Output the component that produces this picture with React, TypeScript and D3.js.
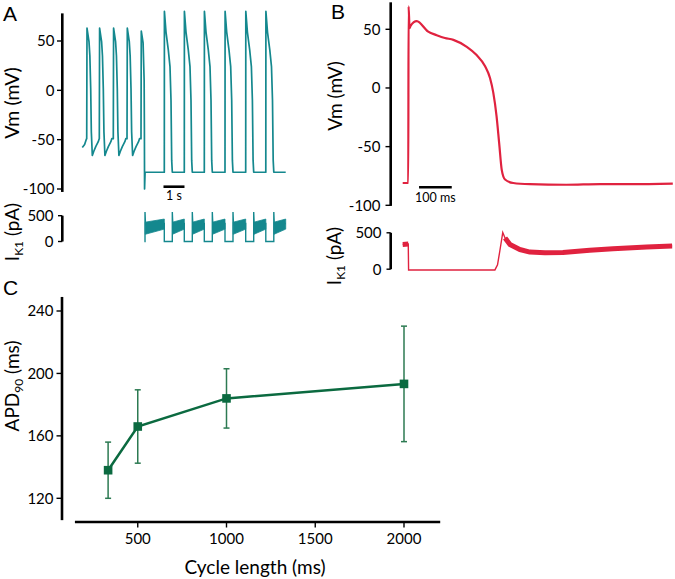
import React from "react";
import * as d3 from "d3";

type P = [number, number];

const TEAL = "#14888e";
const RED = "#e0223f";
const GREEN = "#0b6a40";
const GREEN_ERR = "#2c7a52";
const FONT = "Lato, 'Open Sans', sans-serif";
const LETTER_FONT = "'Liberation Sans', Arial, sans-serif";

// ---------- Panel A data (time in ms, Vm in mV, IK1 in pA) ----------
const aVmTicks = [50, 0, -50, -100];
const aIkTicks = [500, 0];
const aRestStart: P[] = [[0, -58], [110, -55], [200, -49]];
const aFastOnsets = [210, 810, 1476, 2129];
const aFastBeat: P[] = [[0, -49], [14, 63], [110, 49], [150, 35], [190, 2], [220, -42], [267, -66], [333, -62], [430, -57], [550, -52], [595, -49]];
const aLastFastOnset = 2795;
const aLastFastBeat: P[] = [[0, -49], [14, 60], [100, 48], [150, 10], [162, -40], [170, -100], [195, -83]];
const aSlowOnsets = [3905, 4857, 5810, 6795, 7781, 8738];
const aSlowBeat: P[] = [[0, -83], [5, 80], [81, 59], [190, 41], [271, 24], [319, -10], [352, -71], [381, -83]];
const aRestingVm = -83;
const aTraceEnd = 9686;
const aApDuration = 381;
const aIkOn = 2986;
const aIkSpike = 570;
const aIkBandLow = [140, 240];
const aIkBandHigh = [375, 435];

// ---------- Panel B data ----------
const bVmTicks = [50, 0, -50, -100];
const bIkTicks = [500, 0];
const bVm: P[] = [[0, -81], [17, -81], [18, 69.5], [21, 51], [24, 53], [43, 57], [78, 48], [104, 45], [129, 42.6], [155, 41], [196, 35], [226, 28], [252, 18.5], [267, 8.5], [277, -4], [287, -24], [295, -47], [303, -70], [313, -78], [338, -81], [389, -82], [500, -82.5], [604, -82], [700, -82], [826, -81.5]];
const bIk: P[] = [[0, 340], [17, 345], [18, -12], [100, -12], [200, -12], [282, -10], [290, 60], [297, 250], [306, 505], [313, 430], [328, 340], [358, 270], [389, 235], [435, 225], [490, 230], [572, 260], [643, 280], [746, 305], [824, 320]];
const bIkNoisy: P[] = [[0, 17], [312, 826]];

// ---------- Panel C data ----------
const cycleLengths = [333, 500, 1000, 2000];
const apd90 = [138, 166, 184, 193.3];
const apdErr = [18, 23.5, 19, 37];
const cXTicks = [500, 1000, 1500, 2000];
const cYTicks = [120, 160, 200, 240];

export default function App() {
  // ----- scales -----
  const tA = d3.scaleLinear().domain([0, 1000]).range([82.3, 103.3]);
  const vA = d3.scaleLinear().domain([-100, 50]).range([189, 41]);
  const iA = d3.scaleLinear().domain([0, 500]).range([241.5, 215.7]);
  const tB = d3.scaleLinear().domain([0, 100]).range([402.7, 435.4]);
  const vB = d3.scaleLinear().domain([-100, 50]).range([205.3, 29.3]);
  const iB = d3.scaleLinear().domain([0, 500]).range([269.2, 232.8]);
  const xC = d3.scaleLinear().domain([0, 2000]).range([49, 404]);
  const yC = d3.scaleLinear().domain([120, 240]).range([498.3, 311]);

  // ----- Panel A series -----
  const aVm: P[] = [
    ...aRestStart,
    ...aFastOnsets.flatMap((o) => aFastBeat.map(([t, v]) => [o + t, v] as P)),
    ...aLastFastBeat.map(([t, v]) => [aLastFastOnset + t, v] as P),
    ...aSlowOnsets.flatMap((o) => aSlowBeat.map(([t, v]) => [o + t, v] as P)),
    [aTraceEnd, aRestingVm],
  ];
  const lineA = d3.line<P>().x((d) => tA(d[0])).y((d) => vA(d[1]));

  const ikStarts = [aIkOn, ...aSlowOnsets.map((o) => o + aApDuration)];
  const ikEnds = [...aSlowOnsets, aTraceEnd];
  const aIkLine: P[] = [[aIkOn - 30, 0]];
  ikStarts.forEach((s, i) => {
    const e = ikEnds[i];
    aIkLine.push([s, 0], [s, aIkSpike], [s + 25, 320], [e, 350]);
    if (i < ikStarts.length - 1) aIkLine.push([e, 0]);
  });
  const lineIA = d3.line<P>().x((d) => tA(d[0])).y((d) => iA(d[1]));
  const areaIA = d3
    .area<[number, number, number]>()
    .x((d) => tA(d[0]))
    .y0((d) => iA(d[1]))
    .y1((d) => iA(d[2]));

  // ----- Panel B -----
  const lineB = d3.line<P>().x((d) => tB(d[0])).y((d) => vB(d[1])).curve(d3.curveMonotoneX);
  const lineIB = d3.line<P>().x((d) => tB(d[0])).y((d) => iB(d[1]));

  // ----- Panel C -----
  const cPts: P[] = cycleLengths.map((c, i) => [c, apd90[i]]);
  const lineC = d3.line<P>().x((d) => xC(d[0])).y((d) => yC(d[1]));

  const tickFs = 15;

  return (
    <svg
      width={675}
      height={579}
      style={{ position: "absolute", left: 0, top: 0, background: "#fff" }}
      fontFamily={FONT}
    >
      <rect width={675} height={579} fill="#fff" />

      {/* ================= Panel A ================= */}
      <text x={3} y={20.5} fontFamily={LETTER_FONT} fontSize={21}>A</text>
      <line x1={62.3} x2={62.3} y1={vA(78)} y2={vA(-103)} stroke="#000" strokeWidth={2.6} />
      {aVmTicks.map((t) => (
        <g key={"av" + t}>
          <line x1={57} x2={62.3} y1={vA(t)} y2={vA(t)} stroke="#000" strokeWidth={1.4} />
          <text x={54.5} y={vA(t)} dy="0.36em" textAnchor="end" fontSize={tickFs}>{t}</text>
        </g>
      ))}
      <text transform={`translate(18.5,103) rotate(-90)`} textAnchor="middle" fontSize={19.5}>Vm (mV)</text>
      <path d={lineA(aVm) || ""} fill="none" stroke={TEAL} strokeWidth={1.7} strokeLinejoin="round" />
      {/* scale bar 1 s */}
      <line x1={tA(3866)} x2={tA(4866)} y1={186.7} y2={186.7} stroke="#000" strokeWidth={2.6} />
      <text x={(tA(3866) + tA(4866)) / 2} y={200} textAnchor="middle" fontSize={12.5}>1 s</text>

      {/* IK1 A */}
      <line x1={62.3} x2={62.3} y1={iA(500)} y2={iA(0)} stroke="#000" strokeWidth={2.6} />
      {aIkTicks.map((t) => (
        <g key={"ai" + t}>
          <line x1={58} x2={62.3} y1={iA(t)} y2={iA(t)} stroke="#000" strokeWidth={1.4} />
          <text x={53.5} y={iA(t)} dy="0.36em" textAnchor="end" fontSize={tickFs}>{t}</text>
        </g>
      ))}
      <text transform={`translate(18.5,232) rotate(-90)`} textAnchor="middle" fontSize={19}>
        I<tspan fontSize={12} dy={4}>K1</tspan>
        <tspan dy={-4}> (pA)</tspan>
      </text>
      <path d={lineIA(aIkLine) || ""} fill="none" stroke={TEAL} strokeWidth={1.4} />
      {ikStarts.map((s, i) => (
        <path
          key={"band" + i}
          d={areaIA([
            [s + 12, aIkBandLow[0], aIkBandHigh[0]],
            [ikEnds[i], aIkBandLow[1], aIkBandHigh[1]],
          ]) || ""}
          fill={TEAL}
          stroke={TEAL}
          strokeWidth={0.8}
        />
      ))}

      {/* ================= Panel B ================= */}
      <text x={331} y={18.5} fontFamily={LETTER_FONT} fontSize={21}>B</text>
      <line x1={390.7} x2={390.7} y1={vB(73)} y2={vB(-100.5)} stroke="#000" strokeWidth={2.6} />
      {bVmTicks.map((t) => (
        <g key={"bv" + t}>
          <line x1={385.5} x2={390.7} y1={vB(t)} y2={vB(t)} stroke="#000" strokeWidth={1.4} />
          <text x={380.5} y={vB(t)} dy="0.36em" textAnchor="end" fontSize={tickFs}>{t}</text>
        </g>
      ))}
      <text transform={`translate(342,96) rotate(-90)`} textAnchor="middle" fontSize={19}>Vm (mV)</text>
      <path d={lineB(bVm) || ""} fill="none" stroke={RED} strokeWidth={2.2} strokeLinejoin="round" />
      {/* scale bar 100 ms */}
      <line x1={tB(50)} x2={tB(150)} y1={187.3} y2={187.3} stroke="#000" strokeWidth={2.4} />
      <text x={(tB(50) + tB(150)) / 2} y={202} textAnchor="middle" fontSize={12.5}>100 ms</text>

      {/* IK1 B */}
      <line x1={390.7} x2={390.7} y1={iB(500)} y2={iB(0)} stroke="#000" strokeWidth={2.6} />
      {bIkTicks.map((t) => (
        <g key={"bi" + t}>
          <line x1={386.5} x2={390.7} y1={iB(t)} y2={iB(t)} stroke="#000" strokeWidth={1.4} />
          <text x={381.5} y={iB(t)} dy="0.36em" textAnchor="end" fontSize={tickFs}>{t}</text>
        </g>
      ))}
      <text transform={`translate(341,256) rotate(-90)`} textAnchor="middle" fontSize={19}>
        I<tspan fontSize={12} dy={4}>K1</tspan>
        <tspan dy={-4}> (pA)</tspan>
      </text>
      <path d={lineIB(bIk) || ""} fill="none" stroke={RED} strokeWidth={1.4} />
      {bIkNoisy.map(([a, b], i) => (
        <path
          key={"bn" + i}
          d={lineIB(bIk.filter((d) => d[0] >= a && d[0] <= b)) || ""}
          fill="none"
          stroke={RED}
          strokeWidth={5}
          strokeLinejoin="round"
        />
      ))}

      {/* ================= Panel C ================= */}
      <text x={3} y={295} fontFamily={LETTER_FONT} fontSize={21}>C</text>
      <line x1={62} x2={62} y1={yC(249)} y2={yC(106)} stroke="#000" strokeWidth={2.6} />
      {cYTicks.map((t) => (
        <g key={"cy" + t}>
          <line x1={56.5} x2={62} y1={yC(t)} y2={yC(t)} stroke="#000" strokeWidth={1.4} />
          <text x={53.5} y={yC(t)} dy="0.36em" textAnchor="end" fontSize={tickFs}>{t}</text>
        </g>
      ))}
      <line x1={xC(146)} x2={xC(2204)} y1={522} y2={522} stroke="#000" strokeWidth={2.6} />
      {cXTicks.map((t) => (
        <g key={"cx" + t}>
          <line x1={xC(t)} x2={xC(t)} y1={522} y2={527.5} stroke="#000" strokeWidth={1.4} />
          <text x={xC(t)} y={543.5} textAnchor="middle" fontSize={tickFs}>{t}</text>
        </g>
      ))}
      <text x={255} y={573.5} textAnchor="middle" fontSize={19}>Cycle length (ms)</text>
      <text transform={`translate(18.5,386) rotate(-90)`} textAnchor="middle" fontSize={19}>
        APD<tspan fontSize={12} dy={4}>90</tspan>
        <tspan dy={-4}> (ms)</tspan>
      </text>
      {cPts.map(([c, m], i) => (
        <g key={"eb" + i} stroke={GREEN_ERR} strokeWidth={1.5}>
          <line x1={xC(c)} x2={xC(c)} y1={yC(m - apdErr[i])} y2={yC(m + apdErr[i])} />
          <line x1={xC(c) - 3} x2={xC(c) + 3} y1={yC(m - apdErr[i])} y2={yC(m - apdErr[i])} />
          <line x1={xC(c) - 3} x2={xC(c) + 3} y1={yC(m + apdErr[i])} y2={yC(m + apdErr[i])} />
        </g>
      ))}
      <path d={lineC(cPts) || ""} fill="none" stroke={GREEN} strokeWidth={2.5} />
      {cPts.map(([c, m], i) => (
        <rect key={"mk" + i} x={xC(c) - 4.3} y={yC(m) - 4.3} width={8.6} height={8.6} fill={GREEN} />
      ))}
    </svg>
  );
}
